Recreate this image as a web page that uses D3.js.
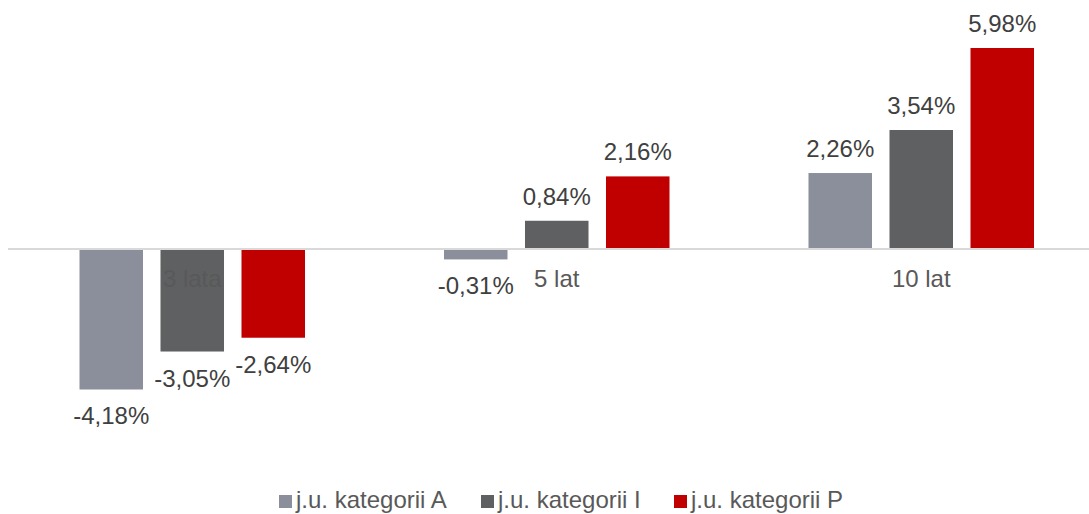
<!DOCTYPE html>
<html>
  <head>
    <meta charset="utf-8" />
    <title>stopy zwrotu</title>
    <script src="https://d3js.org/d3.v7.min.js"></script>
    <style>
      body { margin: 0; background: #fff; }
      text { font-family: "Liberation Sans", Arial, sans-serif; }
    </style>
  </head>
  <body>
    <svg id="chart"></svg>
    <script>
      var categories = ["3 lata", "5 lat", "10 lat"];
      var seriesNames = ["j.u. kategorii A", "j.u. kategorii I", "j.u. kategorii P"];
      var seriesA = [-4.18, -0.31, 2.26];
      var seriesI = [-3.05, 0.84, 3.54];
      var seriesP = [-2.64, 2.16, 5.98];
      var colors = ["#8B8F9B", "#5F6062", "#C00000"];

      var width = 1089, height = 514;
      var svg = d3.select("#chart").attr("width", width).attr("height", height);

      var all = [seriesA, seriesI, seriesP];
      var data = [];
      categories.forEach(function(c, i) {
        all.forEach(function(s, j) {
          data.push({ cat: c, series: j, value: s[i] });
        });
      });

      var x = d3.scaleBand().domain(categories).range([10, 1103.5]);
      var x1 = d3.scaleBand().domain([0, 1, 2]).range([0, x.bandwidth()])
        .paddingInner(0.216).paddingOuter(0.858);

      var y = d3.scaleLinear().domain([0, 5.98]).range([249, 48]);

      // bars
      svg.append("g").selectAll("rect")
        .data(data)
        .enter().append("rect")
        .attr("x", function(d) { return x(d.cat) + x1(d.series); })
        .attr("width", x1.bandwidth())
        .attr("y", function(d) { return Math.min(y(d.value), y(0)); })
        .attr("height", function(d) { return Math.abs(y(d.value) - y(0)); })
        .attr("fill", function(d) { return colors[d.series]; });

      // zero line
      svg.append("line")
        .attr("x1", 8).attr("x2", width)
        .attr("y1", y(0)).attr("y2", y(0))
        .attr("stroke", "#D9D9D9").attr("stroke-width", 2);

      // category labels
      svg.append("g").selectAll("text")
        .data(categories)
        .enter().append("text")
        .attr("x", function(d) { return x(d) + x.bandwidth() / 2; })
        .attr("y", y(0) + 38)
        .attr("text-anchor", "middle")
        .attr("font-size", "24px")
        .attr("fill", "#595959")
        .text(function(d) { return d; });

      // value labels
      svg.append("g").selectAll("text")
        .data(data)
        .enter().append("text")
        .attr("x", function(d) { return x(d.cat) + x1(d.series) + x1.bandwidth() / 2; })
        .attr("y", function(d) {
          return d.value >= 0 ? y(d.value) - 16 : y(d.value) + 35;
        })
        .attr("text-anchor", "middle")
        .attr("font-size", "24px")
        .attr("fill", "#404040")
        .text(function(d) { return d.value.toFixed(2).replace(".", ",") + "%"; });

      // legend
      var legendX = [279, 481, 674];
      var legend = svg.append("g").selectAll("g")
        .data(seriesNames)
        .enter().append("g")
        .attr("transform", function(d, i) { return "translate(" + legendX[i] + ",495)"; });
      legend.append("rect")
        .attr("width", 13).attr("height", 13)
        .attr("fill", function(d, i) { return colors[i]; });
      legend.append("text")
        .attr("x", 17).attr("y", 13)
        .attr("font-size", "24px")
        .attr("fill", "#595959")
        .text(function(d) { return d; });
    </script>
  </body>
</html>
